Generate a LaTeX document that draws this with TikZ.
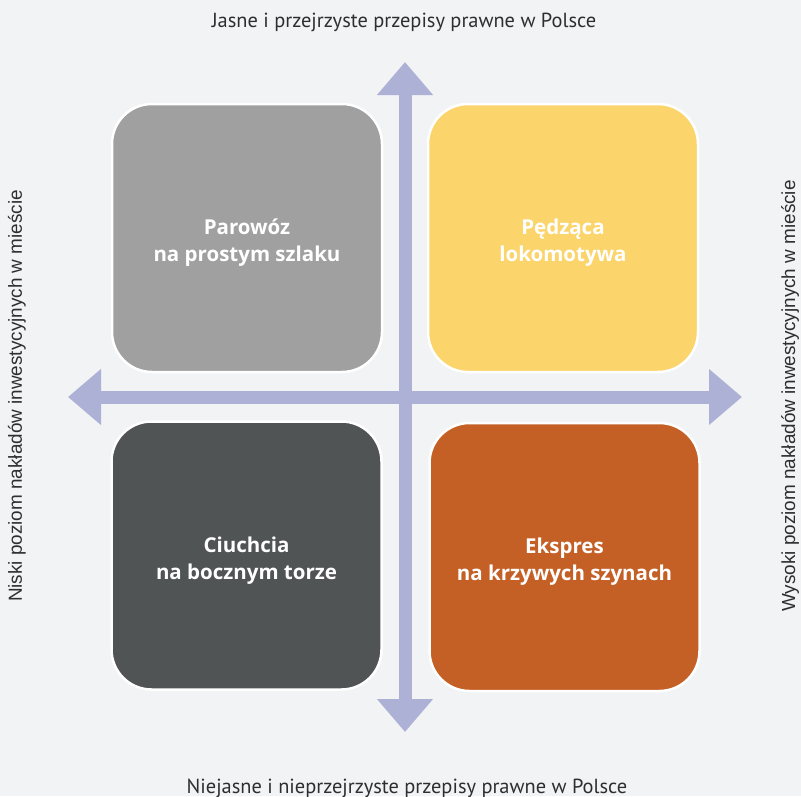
\documentclass[tikz,border=0pt]{standalone}
\usepackage{fontspec}
\setmainfont{Open Sans}
\newfontfamily\axisfont{PT Sans}
\newfontfamily\sidefont{Liberation Sans}
\usetikzlibrary{arrows.meta}
\definecolor{bg}{HTML}{F2F3F5}
\definecolor{axiscol}{HTML}{AEB1D6}
\definecolor{cgray}{HTML}{A0A0A0}
\definecolor{cyellow}{HTML}{FBD56C}
\definecolor{cdark}{HTML}{515455}
\definecolor{corange}{HTML}{C46026}
\definecolor{txt}{HTML}{2E2E2E}
\tikzset{
  quad/.style={draw=white, line width=2.5pt, rounded corners=40pt,
    minimum width=270pt, minimum height=268pt, inner sep=0pt},
  quadtext/.style={text=white, align=center, inner sep=0pt,
    font=\fontsize{20.5}{27}\selectfont\bfseries},
  axis/.style={draw=axiscol, line width=13pt,
    {Triangle[length=33pt,width=54pt]}-{Triangle[length=33pt,width=54pt]}},
  toplabel/.style={text=txt, font=\axisfont\fontsize{20.4}{22}\selectfont},
  sidelabel/.style={text=txt, rotate=90, font=\sidefont\fontsize{18.9}{21}\selectfont}
}
\begin{document}
\begin{tikzpicture}[x=1pt,y=-1pt]
\fill[bg] (0,0) rectangle (801,796);
\useasboundingbox (0,0) rectangle (801,796);
\coordinate (vt) at (405,62);
\coordinate (vb) at (405,732);
\coordinate (hl) at (68,397);
\coordinate (hr) at (742,397);
\draw[axis] (vb) -- (vt);
\draw[axis] (hl) -- (hr);
\node[quad, fill=cgray] (tl) at (247,238) {};
\node[quad, fill=cyellow] (tr) at (563,238) {};
\node[quad, fill=cdark] (bl) at (246.5,555.5) {};
\node[quad, fill=corange] (br) at (564.5,557) {};
\node[quadtext] (tlt) at ([yshift=-5pt]tl.center) {Parowóz\\na prostym szlaku};
\node[quadtext] (trt) at ([yshift=-5pt]tr.center) {Pędząca\\lokomotywa};
\node[quadtext] (blt) at ([yshift=-5pt]bl.center) {Ciuchcia\\na bocznym torze};
\node[quadtext] (brt) at ([yshift=-5pt]br.center) {Ekspres\\na krzywych szynach};
\node[toplabel] (top) at (404,22) {Jasne i przejrzyste przepisy prawne w Polsce};
\node[toplabel] (bot) at (407,788) {Niejasne i nieprzejrzyste przepisy prawne w Polsce};
\node[sidelabel] (left) at (17,396) {Niski poziom nakładów inwestycyjnych w mieście};
\node[sidelabel] (right) at (790,396) {Wysoki poziom nakładów inwestycyjnych w mieście};
\end{tikzpicture}
\end{document}
